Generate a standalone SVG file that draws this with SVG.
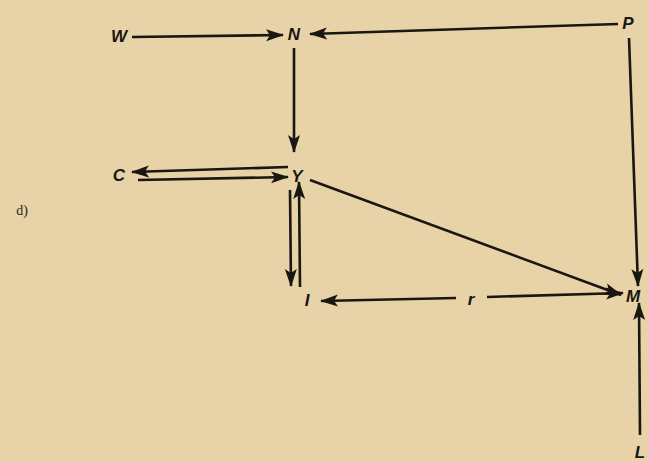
<svg xmlns="http://www.w3.org/2000/svg" width="648" height="462" viewBox="0 0 648 462">
<style>
.lbl{font-family:"Liberation Sans",Arial,sans-serif;font-weight:bold;font-style:italic;font-size:17px;fill:#1a1612;text-anchor:middle}
.ln{stroke:#1a1612;stroke-width:2.6;fill:none;marker-end:url(#ah)}
</style>
<defs>
<marker id="ah" markerUnits="userSpaceOnUse" markerWidth="20" markerHeight="14" refX="17" refY="7" orient="auto">
<path d="M0,1 L18,7 L0,13 L4,7 Z" fill="#1a1612"/>
</marker>
</defs>
<rect width="648" height="462" fill="#e7d3a7"/>
<g id="label-d"><text x="22" y="215" font-family="Liberation Serif,serif" font-size="14" fill="#2a241c" text-anchor="middle">d)</text></g>
<g id="W"><text class="lbl" x="119" y="42">W</text></g>
<g id="N"><text class="lbl" x="294" y="40">N</text></g>
<g id="P"><text class="lbl" x="628" y="29">P</text></g>
<g id="C"><text class="lbl" x="119" y="181">C</text></g>
<g id="Y"><text class="lbl" x="297" y="182">Y</text></g>
<g id="I"><text class="lbl" x="307" y="306">I</text></g>
<g id="r"><text class="lbl" x="471" y="305">r</text></g>
<g id="M"><text class="lbl" x="633" y="302">M</text></g>
<g id="L"><text class="lbl" x="640" y="458" font-size="15">L</text></g>
<g id="connectors">
<line class="ln" x1="132" y1="37" x2="283" y2="35"/>
<line class="ln" x1="618" y1="24" x2="310" y2="34"/>
<line class="ln" x1="294" y1="48" x2="294" y2="152"/>
<line class="ln" x1="288" y1="167" x2="132" y2="172"/>
<line class="ln" x1="138" y1="180" x2="288" y2="177"/>
<line class="ln" x1="290" y1="190" x2="291" y2="286"/>
<line class="ln" x1="300" y1="287" x2="299" y2="182"/>
<line class="ln" x1="310" y1="180" x2="621" y2="295"/>
<line class="ln" x1="456" y1="298" x2="321" y2="301"/>
<line class="ln" x1="487" y1="297" x2="623" y2="293"/>
<line class="ln" x1="629" y1="38" x2="638" y2="286"/>
<line class="ln" x1="640" y1="435" x2="639" y2="303"/>
</g>
</svg>
